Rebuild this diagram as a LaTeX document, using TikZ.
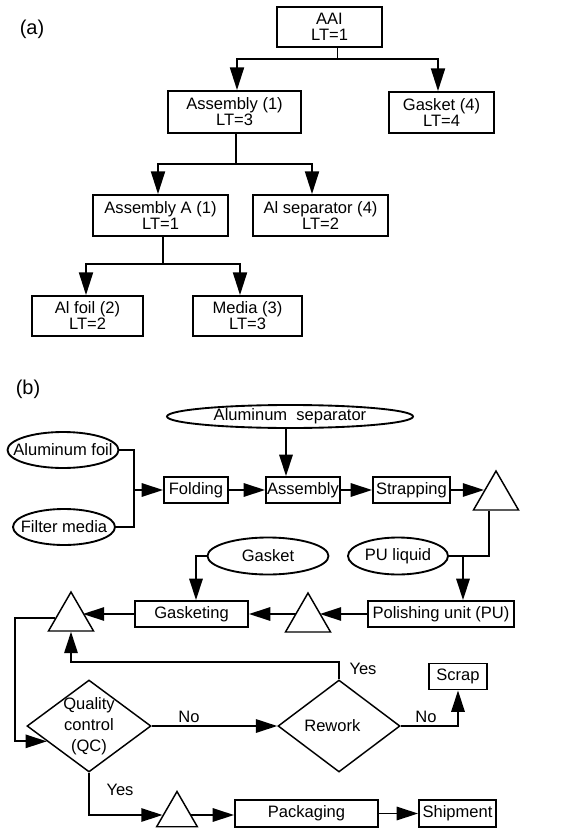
\documentclass[tikz,border=0pt]{standalone}
\usepackage{fontspec}
\setmainfont{Liberation Sans}
\usetikzlibrary{arrows.meta,shapes.geometric,calc}
\begin{document}
\begin{tikzpicture}[x=0.75pt,y=-0.75pt,line width=1.4pt,
  every node/.style={font=\fontsize{12.4pt}{12pt}\selectfont, inner sep=0pt},
  box/.style 2 args={draw, rectangle, minimum width=#1*0.75pt, minimum height=#2*0.75pt, align=center},
  oval/.style 2 args={draw, ellipse, minimum width=#1*0.75pt, minimum height=#2*0.75pt},
  dia/.style 2 args={draw, diamond, minimum width=#1*0.75pt, minimum height=#2*0.75pt},
  tri/.style={draw, line width=1.1pt, regular polygon, regular polygon sides=3, minimum size=52*0.75pt},
  arr/.style={-{Triangle[length=16pt,width=10pt]}},
  arra/.style={-{Triangle[length=17pt,width=10.5pt]}},
  tag/.style={font=\fontsize{15pt}{16pt}\selectfont}]
\useasboundingbox (0,0) rectangle (576,830);

% ---------- (a) ----------
\node[tag] (la) at (32,29) {(a)};
\node[box={105}{40}] (aai) at (329.5,27) {AAI\\LT=1};
\node[box={133}{42}] (asm) at (234.5,112) {Assembly (1)\\LT=3};
\node[box={105}{41}] (gsk4) at (441.5,112.5) {Gasket (4)\\LT=4};
\node[box={135}{41}] (asma) at (160.5,215.5) {Assembly A (1)\\LT=1};
\node[box={135}{41}] (alsep) at (320.5,215.5) {Al separator (4)\\LT=2};
\node[box={111}{40}] (alfoil) at (87.5,316) {Al foil (2)\\LT=2};
\node[box={109}{40}] (media) at (247.5,316) {Media (3)\\LT=3};

\draw ($(aai.south)+(8,0)$) -- ++(0,11) coordinate (a1);
\draw[arra] (a1) -| ($(asm.north)+(2.5,0)$);
\draw[arra] (a1) -| ($(gsk4.north)+(-3.5,0)$);
\draw ($(asm.south)+(1.5,0)$) -- ++(0,30) coordinate (a2);
\draw[arra] (a2) -| ($(asma.north)+(-2.5,0)$);
\draw[arra] (a2) -| ($(alsep.north)+(-8.5,0)$);
\draw ($(asma.south)+(2.5,0)$) -- ++(0,27) coordinate (a3);
\draw[arra] (a3) -| ($(alfoil.north)+(-1.5,0)$);
\draw[arra] (a3) -| ($(media.north)+(-7.5,0)$);

% ---------- (b) ----------
\node[tag] (lb) at (28,389) {(b)};
\node[oval={246}{23}, label=center:Aluminum\ \ separator] (alsepE) at (290,416.5) {};
\node[oval={111}{36}, label=center:Aluminum foil] (alfoilE) at (63,450) {};
\node[oval={102}{36}, label=center:Filter media] (filterE) at (64,527) {};
\node[box={64}{26}] (fold) at (196,490) {Folding};
\node[box={74}{26}] (assy) at (303,490) {Assembly};
\node[box={77}{26}] (strap) at (411.5,490) {Strapping};
\node[tri] (tri1) at (496,497) {};
\node[oval={121}{37}, label=center:Gasket] (gasketE) at (268,556) {};
\node[oval={100}{37}, label=center:PU liquid] (puE) at (398,556) {};
\node[box={113}{26}] (gasketing) at (191.5,614) {Gasketing};
\node[box={146}{26}] (polish) at (441,614) {Polishing unit (PU)};
\node[tri] (tri2) at (308,619) {};
\node[tri] (tri3) at (71,618) {};
\node[box={58}{26}] (scrap) at (458,676.5) {Scrap};
\node[dia={124}{92}, line width=1.1pt, label={[align=center,font=\fontsize{12.4pt}{15.75pt}\selectfont]center:Quality\\control\\(QC)}] (qc) at (89,726) {};
\node[dia={122}{92}, line width=1.1pt, label={[xshift=-5pt]center:Rework}] (rw) at (339,726) {};
\node[tri, minimum size=47*0.75pt] (tri4) at (177,815) {};
\node[box={143}{27}] (pack) at (306.5,813.5) {Packaging};
\node[box={77}{27}] (ship) at (457.5,813.5) {Shipment};

\coordinate (j0) at (134,490);
\draw (alfoilE.east) -| (j0);
\draw (filterE.east) -| (j0);
\draw[arr] (j0) -- (fold.west);
\coordinate (s1) at ($(alsepE.south)+(-4,0)$);
\draw[arr] (s1) -- (s1 |- assy.north);
\draw[arr] (fold.east) -- (assy.west);
\draw[arr] (assy.east) -- (strap.west);
\draw[arr] (strap.east) -- (strap.east -| tri1.side 1);
\coordinate (j1) at (489,0);
\draw (puE.east) -- (puE.east -| j1) -- (j1 |- tri1.side 2);
\coordinate (j2) at (463,0);
\draw[arr] (puE.east -| j2) -- (j2 |- polish.north);
\draw[arr] (polish.west) -- (polish.west -| tri2.side 3);
\draw[arr] (gasketing.east -| tri2.side 1) -- (gasketing.east);
\draw[arr] (gasketing.west) -- (gasketing.west -| tri3.side 3);
\coordinate (g1) at ($(gasketing.north)+(4.5,0)$);
\draw[arr] (gasketE.west) -| (g1);
\draw[arr] (tri3.180) -- ++(-40,0) |- (qc.200);
\draw[arr] (rw.north) -- ++(0,-17) -| (tri3.side 2);
\node (yes1) at (363,669) {Yes};
\draw[arr] (qc.east) -- (rw.west);
\node (no1) at (189,717) {No};
\draw[arr] (rw.east) -| (scrap.south);
\node (no2) at (426,717) {No};
\draw[arr] (qc.south) |- (tri4.180);
\node (yes2) at (120,790) {Yes};
\draw[arr] (tri4.0) -- (tri4.0 -| pack.west);
\draw[arr] (pack.east) -- (ship.west);
\end{tikzpicture}
\end{document}
